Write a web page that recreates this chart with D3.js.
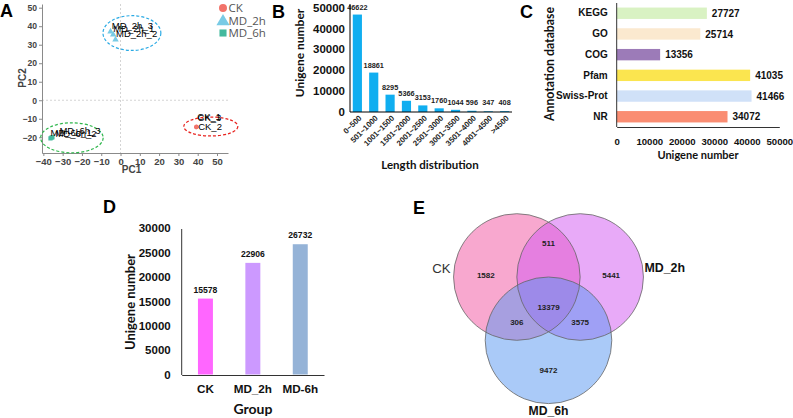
<!DOCTYPE html>
<html><head><meta charset="utf-8">
<script src="https://cdn.jsdelivr.net/npm/d3@7"></script>
<style>body{margin:0;background:#fff} svg{display:block}</style>
</head><body><svg id="c" width="793" height="418"></svg>
<script>
// ---------------- DATA ----------------
// Panel A: PCA
const pcaSamples = ["CK_1","CK_2","CK_3","MD_2h_1","MD_2h_2","MD_2h_3","MD_6h_1","MD_6h_2","MD_6h_3"];
const pcaGroup   = ["CK","CK","CK","MD_2h","MD_2h","MD_2h","MD_6h","MD_6h","MD_6h"];
const pc1 = [39.3, 39.2, 39.4, -3.8, -2.6, -5.2, -36.3, -35.8, -35.3];
const pc2 = [-14.3, -14.6, -14.4, 35.5, 32.8, 37.1, -20.6, -20.2, -20.0];
const pcGroups = ["CK","MD_2h","MD_6h"];
const pcXTicks = [-40,-30,-20,-10,0,10,20,30,40,50];
const pcYTicks = [-20,-10,0,10,20,30,40,50];
// confidence ellipses (data units): centre x, centre y, radius x, radius y
const ellCx = [46.8, 5.9, -25.2];
const ellCy = [-14.2, 36.3, -20.3];
const ellRx = [14.0, 15.0, 16.2];
const ellRy = [5.1, 9.4, 8.1];

// Panel B: length distribution
const lenCats = ["0~500","501~1000","1001~1500","1501~2000","2001~2500","2501~3000","3001~3500","3501~4000","4001~4500",">4500"];
const lenVals = [46622,18861,8295,5366,3153,1760,1044,596,347,408];
const lenTicks = [0,10000,20000,30000,40000,50000];

// Panel C: annotation databases
const dbCats = ["KEGG","GO","COG","Pfam","Swiss-Prot","NR"];
const dbVals = [27727,25714,13356,41035,41466,34072];
const dbTicks = [0,10000,20000,30000,40000,50000];

// Panel D: unigene number per group
const grpCats = ["CK","MD_2h","MD-6h"];
const grpVals = [15578,22906,26732];
const grpTicks = [0,5000,10000,15000,20000,25000,30000];

// Panel E: Venn
const vennSets = ["CK","MD_2h","MD_6h"];
const vennRegions = ["CK","CK&MD_2h","MD_2h","CK&MD_6h","CK&MD_2h&MD_6h","MD_2h&MD_6h","MD_6h"];
const vennValues  = [1582,511,5441,306,13379,3575,9472];

// ---------------- STYLE / LAYOUT ----------------
const AR = "'Liberation Sans', Arial, sans-serif";
const CAL = "Lato, 'Liberation Sans', sans-serif";
const pcColors = {"CK":"#f2736a","MD_2h":"#79cbe5","MD_6h":"#43b99e"};
const pcSymbols = {"CK":d3.symbolCircle,"MD_2h":d3.symbolTriangle,"MD_6h":d3.symbolSquare};
const ellColors = ["#e8231f","#2aaae4","#2fb64c"];
const labelNudge = [[1,-7],[2,2.5],[1,-6],[0,-2.5],[0.5,-2.5],[1.3,-3],[0,-2],[4,-1],[7,-3]];
const dbColors = ["#d9f2c3","#fbe9cf","#9c7bb8","#fbe54f","#d0e1f8","#fa8d72"];
const grpColors = ["#ff66ff","#cc99ff","#95b3d7"];
const vennFill = ["#f151a0","#d155f1","#5595f1"];

const svg = d3.select("#c");
svg.append("rect").attr("width",793).attr("height",418).attr("fill","#fff");

function letter(t,x,y){
  svg.append("text").attr("x",x).attr("y",y).text(t)
    .attr("font-family",AR).attr("font-weight","bold").attr("font-size",18).attr("fill","#000");
}

// ---------------- PANEL A ----------------
{
  const ax = d3.scaleLinear().domain([-40.7,55.7]).range([42,228]);
  const ay = d3.scaleLinear().domain([-28.5,52]).range([153,4]);
  const g = svg.append("g");
  g.append("line").attr("x1",ax(0)).attr("x2",ax(0)).attr("y1",ay.range()[1]).attr("y2",ay.range()[0])
    .attr("stroke","#c8c8c8").attr("stroke-width",0.8).attr("stroke-dasharray","2,2");
  g.append("line").attr("x1",ax.range()[0]).attr("x2",ax.range()[1]).attr("y1",ay(0)).attr("y2",ay(0))
    .attr("stroke","#c8c8c8").attr("stroke-width",0.8).attr("stroke-dasharray","2,2");
  const xa = g.append("g").attr("transform",`translate(0,${ay.range()[0]})`)
    .call(d3.axisBottom(ax).tickValues(pcXTicks).tickSize(3).tickPadding(2).tickSizeOuter(0));
  const ya = g.append("g").attr("transform",`translate(${ax.range()[0]},0)`)
    .call(d3.axisLeft(ay).tickValues(pcYTicks).tickSize(3).tickPadding(2).tickSizeOuter(0));
  [xa,ya].forEach(a=>{
    a.select(".domain").attr("stroke","#8a8a8a");
    a.selectAll(".tick line").attr("stroke","#8a8a8a");
    a.selectAll("text").attr("font-family",AR).attr("font-weight","bold").attr("fill","#444");
  });
  xa.selectAll("text").attr("font-size",9.5);
  ya.selectAll("text").attr("font-size",8.6);
  g.append("text").attr("x",ax(0)+11).attr("y",173).attr("text-anchor","middle").text("PC1")
    .attr("font-family",AR).attr("font-weight","bold").attr("font-size",10).attr("fill","#444");
  g.append("text").attr("transform",`translate(22.5,${ay(12)}) rotate(-90)`).attr("dy","0.35em").attr("text-anchor","middle").text("PC2")
    .attr("font-family",AR).attr("font-weight","bold").attr("font-size",10).attr("fill","#444");
  // ellipses
  ellCx.forEach((cx,i)=>{
    g.append("ellipse").attr("cx",ax(cx)).attr("cy",ay(ellCy[i]))
      .attr("rx",ax(cx+ellRx[i])-ax(cx)).attr("ry",ay(ellCy[i]-ellRy[i])-ay(ellCy[i]))
      .attr("fill","none").attr("stroke",ellColors[i]).attr("stroke-width",1.2).attr("stroke-dasharray","3,2");
  });
  // points
  pcaSamples.forEach((s,i)=>{
    const grp = pcaGroup[i];
    g.append("path").attr("d",d3.symbol().type(pcSymbols[grp]).size(grp==="CK"?14:18)())
      .attr("transform",`translate(${ax(pc1[i])},${ay(pc2[i])})`).attr("fill",pcColors[grp]);
  });
  pcaSamples.forEach((s,i)=>{
    g.append("text").attr("x",ax(pc1[i])+labelNudge[i][0]).attr("y",ay(pc2[i])+labelNudge[i][1]).text(s)
      .attr("font-family",AR).attr("font-size",9.5).attr("fill","#000");
  });
  // legend
  pcGroups.forEach((grp,i)=>{
    const y = 8 + i*12.5;
    g.append("path").attr("d",d3.symbol().type(pcSymbols[grp]).size(grp==="MD_2h"?75:50)())
      .attr("transform",`translate(223,${y + (grp==="MD_2h"?1:0)})`).attr("fill",pcColors[grp]);
    g.append("text").attr("x",228.5).attr("y",y).attr("dy","0.36em").text(grp)
      .attr("font-family","'Open Sans', sans-serif").attr("font-size",11.5).attr("fill","#555");
  });
  letter("A",0,17);
}

// ---------------- PANEL B ----------------
{
  const bx = d3.scaleBand().domain(lenCats).range([350,512]).paddingInner(0.44).paddingOuter(0.17);
  const by = d3.scaleLinear().domain([0,50000]).range([112,7.5]);
  const g = svg.append("g");
  g.selectAll("rect.b").data(lenVals).join("rect")
    .attr("x",(d,i)=>bx(lenCats[i])).attr("width",bx.bandwidth())
    .attr("y",d=>by(d)).attr("height",d=>by(0)-by(d)).attr("fill","#10aef0");
  g.selectAll("text.v").data(lenVals).join("text")
    .attr("x",(d,i)=>bx(lenCats[i])+bx.bandwidth()/2).attr("y",d=>Math.min(by(d)-5,104.5))
    .attr("text-anchor","middle").text(d=>d)
    .attr("font-family",AR).attr("font-weight","bold").attr("font-size",7.3).attr("fill","#222");
  const ya = g.append("g").attr("transform","translate(350,0)")
    .call(d3.axisLeft(by).tickValues(lenTicks).tickSize(0).tickPadding(5).tickFormat(d3.format("d")));
  ya.select(".domain").attr("stroke","#000").attr("d","M0,112V4");
  ya.selectAll("text").attr("font-family",AR).attr("font-weight","bold").attr("font-size",11.5).attr("fill","#111");
  g.append("line").attr("x1",350).attr("x2",512).attr("y1",112).attr("y2",112).attr("stroke","#000").attr("stroke-width",1);
  g.selectAll("text.xl").data(lenCats).join("text")
    .attr("transform",c=>`translate(${bx(c)+bx.bandwidth()/2+3},117) rotate(-45)`)
    .attr("text-anchor","end").attr("dy","0.3em").text(c=>c)
    .attr("font-family",AR).attr("font-weight","bold").attr("font-size",7.8).attr("fill","#222");
  g.append("text").attr("x",430).attr("y",165).attr("dy","0.35em").attr("text-anchor","middle").text("Length distribution")
    .attr("font-family",CAL).attr("font-weight","bold").attr("font-size",11.5).attr("fill","#111");
  g.append("text").attr("transform","translate(300,53) rotate(-90)").attr("dy","0.35em").attr("text-anchor","middle").text("Unigene number")
    .attr("font-family",CAL).attr("font-weight","bold").attr("font-size",12).attr("fill","#111");
  letter("B",272,18);
}

// ---------------- PANEL C ----------------
{
  const cx = d3.scaleLinear().domain([0,50000]).range([616.7,779.3]);
  const cy = d3.scaleBand().domain(dbCats).range([3,127]).paddingInner(0.45).paddingOuter(0.22);
  const g = svg.append("g");
  g.selectAll("rect").data(dbVals).join("rect")
    .attr("x",cx(0)).attr("y",(d,i)=>cy(dbCats[i])).attr("height",cy.bandwidth())
    .attr("width",d=>cx(d)-cx(0)).attr("fill",(d,i)=>dbColors[i]);
  g.selectAll("text.v").data(dbVals).join("text")
    .attr("x",d=>cx(d)+5).attr("y",(d,i)=>cy(dbCats[i])+cy.bandwidth()/2).attr("dy","0.36em").text(d=>d)
    .attr("font-family",AR).attr("font-weight","bold").attr("font-size",10).attr("fill","#111");
  const xa = g.append("g").attr("transform","translate(0,127)")
    .call(d3.axisBottom(cx).tickValues(dbTicks).tickSize(0).tickPadding(11).tickFormat(d3.format("d")));
  xa.select(".domain").attr("stroke","#333");
  xa.selectAll("text").attr("font-family",AR).attr("font-weight","bold").attr("font-size",9.6).attr("fill","#111");
  const ya = g.append("g").attr("transform",`translate(${cx(0)},0)`)
    .call(d3.axisLeft(cy).tickSize(0).tickPadding(9));
  ya.select(".domain").attr("stroke","#333").attr("d","M0,127V3");
  ya.selectAll("text").attr("font-family",AR).attr("font-weight","bold").attr("font-size",10).attr("fill","#111");
  g.append("text").attr("x",698).attr("y",155).attr("dy","0.35em").attr("text-anchor","middle").text("Unigene number")
    .attr("font-family",CAL).attr("font-weight","bold").attr("font-size",11).attr("fill","#111");
  g.append("text").attr("transform","translate(549.5,64) rotate(-90)").attr("dy","0.35em").attr("text-anchor","middle").text("Annotation database")
    .attr("font-family",CAL).attr("font-weight","bold").attr("font-size",12.3).attr("fill","#111");
  letter("C",520,18);
}

// ---------------- PANEL D ----------------
{
  const dx = d3.scaleBand().domain(grpCats).range([181.7,324]).paddingInner(0.684).paddingOuter(0.343);
  const dy = d3.scaleLinear().domain([0,30000]).range([374.5,228.3]);
  const g = svg.append("g");
  g.selectAll("rect").data(grpVals).join("rect")
    .attr("x",(d,i)=>dx(grpCats[i])).attr("width",dx.bandwidth())
    .attr("y",d=>dy(d)).attr("height",d=>dy(0)-dy(d)).attr("fill",(d,i)=>grpColors[i]);
  g.selectAll("text.v").data(grpVals).join("text")
    .attr("x",(d,i)=>dx(grpCats[i])+dx.bandwidth()/2).attr("y",d=>dy(d)-6)
    .attr("text-anchor","middle").text(d=>d)
    .attr("font-family",AR).attr("font-weight","bold").attr("font-size",8.6).attr("fill","#111");
  const ya = g.append("g").attr("transform","translate(181.7,0)")
    .call(d3.axisLeft(dy).tickValues(grpTicks).tickSize(0).tickPadding(11).tickFormat(d3.format("d")));
  ya.select(".domain").attr("stroke","#333").attr("d","M0,375V229");
  ya.selectAll("text").attr("font-family",AR).attr("font-weight","bold").attr("font-size",11.5).attr("fill","#111");
  const xa = g.append("g").attr("transform","translate(0,375)")
    .call(d3.axisBottom(dx).tickSize(0).tickPadding(10));
  xa.select(".domain").attr("stroke","#333");
  xa.selectAll("text").attr("font-family",AR).attr("font-weight","bold").attr("font-size",11.7).attr("fill","#111");
  g.append("text").attr("x",253).attr("y",409).attr("dy","0.35em").attr("text-anchor","middle").text("Group")
    .attr("font-family",CAL).attr("font-weight","bold").attr("font-size",14).attr("fill","#111");
  g.append("text").attr("transform","translate(130,302) rotate(-90)").attr("dy","0.35em").attr("text-anchor","middle").text("Unigene number")
    .attr("font-family",CAL).attr("font-weight","bold").attr("font-size",13).attr("fill","#111");
  letter("D",103,213);
}

// ---------------- PANEL E ----------------
{
  const ctr = [548.5, 277], r = 63.3;
  const centers = [[ctr[0]-r/2, ctr[1]],[ctr[0]+r/2, ctr[1]],[ctr[0], ctr[1]+r]];
  const g = svg.append("g");
  vennSets.forEach((s,i)=>{
    g.append("circle").attr("cx",centers[i][0]).attr("cy",centers[i][1]).attr("r",r)
      .attr("fill",vennFill[i]).attr("fill-opacity",0.5);
  });
  vennSets.forEach((s,i)=>{
    g.append("circle").attr("cx",centers[i][0]).attr("cy",centers[i][1]).attr("r",r)
      .attr("fill","none").attr("stroke","#666").attr("stroke-width",0.8);
  });
  // region label anchors, in units of r relative to the top-pair midpoint
  const regionPos = {"CK":[-0.99,-0.03],"CK&MD_2h":[0,-0.53],"MD_2h":[0.99,-0.03],
    "CK&MD_6h":[-0.5,0.72],"CK&MD_2h&MD_6h":[0,0.47],"MD_2h&MD_6h":[0.5,0.72],"MD_6h":[0,1.47]};
  vennRegions.forEach((k,i)=>{
    g.append("text").attr("x",ctr[0]+regionPos[k][0]*r).attr("y",ctr[1]+regionPos[k][1]*r)
      .attr("dy","0.35em").attr("text-anchor","middle").text(vennValues[i])
      .attr("font-family",AR).attr("font-weight","bold").attr("font-size",8).attr("fill","#222");
  });
  g.append("text").attr("x",centers[0][0]-r-3).attr("y",centers[0][1]-9).attr("dy","0.35em").attr("text-anchor","end").text(vennSets[0])
    .attr("font-family",AR).attr("font-size",13.2).attr("fill","#333");
  g.append("text").attr("x",centers[1][0]+r+1).attr("y",centers[1][1]-9).attr("dy","0.35em").attr("text-anchor","start").text(vennSets[1])
    .attr("font-family",AR).attr("font-weight","bold").attr("font-size",12.4).attr("fill","#111");
  g.append("text").attr("x",centers[2][0]).attr("y",centers[2][1]+r+7).attr("dy","0.35em").attr("text-anchor","middle").text(vennSets[2])
    .attr("font-family",AR).attr("font-weight","bold").attr("font-size",12.2).attr("fill","#111");
  letter("E",413,214);
}
</script>
</body></html>
